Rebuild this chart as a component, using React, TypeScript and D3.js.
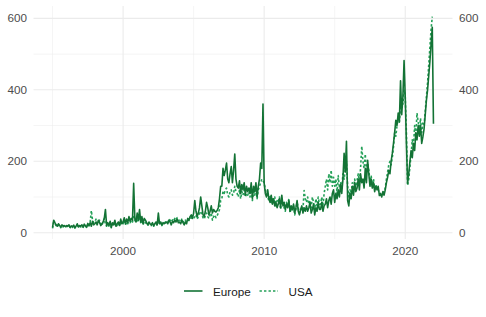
import React from "react";
import * as d3 from "d3";

const width = 486,
  height = 317;
// panel box, in pixels
const panel = { left: 33.5, right: 452.5, top: 6, bottom: 239 };

// monthly values, Jan 1995 onward (one row per year)
const startYear = 1995;
const europe = [
  15, 35, 28, 22, 18, 25, 20, 16, 22, 18, 20, 17,
  20, 18, 22, 15, 19, 17, 21, 14, 18, 25, 16, 20,
  18, 22, 16, 24, 19, 15, 26, 20, 28, 18, 32, 22,
  25, 30, 22, 35, 28, 20, 24, 30, 40, 65, 20, 28,
  20, 32, 15, 28, 22, 35, 18, 25, 30, 20, 38, 25,
  30, 42, 25, 38, 28, 45, 32, 40, 35, 138, 40, 30,
  55, 35, 65, 30, 45, 25, 40, 35, 28, 22, 30, 25,
  22, 28, 20, 25, 30, 22, 55, 25, 30, 22, 28, 25,
  28, 30, 25, 35, 30, 22, 32, 28, 35, 30, 38, 28,
  30, 25, 35, 28, 22, 30, 25, 40, 35, 45, 50, 40,
  55, 90, 60, 45, 55, 70, 100, 75, 50, 45, 60, 85,
  70, 50, 60, 75, 55, 65, 60, 58, 62, 70, 95, 130,
  130, 180, 160, 175, 195, 150, 140, 165, 185, 140, 175, 220,
  150, 130, 125, 145, 110, 135, 120, 140, 105, 130, 115, 125,
  110, 140, 95, 130, 115, 140, 100, 130, 150, 195, 180, 360,
  138, 110, 100, 120, 95, 85, 105, 80, 95, 75, 85, 70,
  80, 95, 70, 105, 75, 85, 65, 80, 70, 90, 60, 75,
  65, 80, 55, 70, 90, 60, 50, 65, 75, 55, 70, 60,
  75, 60, 70, 85, 55, 65, 80, 50, 70, 60, 85, 65,
  65, 85, 60, 75, 80, 95, 70, 90, 100, 80, 110, 120,
  85, 110, 95, 120, 100, 135, 110, 150, 222, 170, 256, 90,
  75, 110, 95, 130, 105, 140, 115, 125, 150, 120, 165, 140,
  150, 125, 180, 140, 203, 165, 130, 150, 125, 140, 115, 130,
  120, 130, 104, 110, 100, 115, 105, 120, 140, 155, 175, 165,
  200, 222, 250, 280, 315, 300, 335, 310, 425, 330, 380, 482,
  380, 250, 138, 166, 200, 230, 210, 250, 230, 280, 260, 300,
  270, 300, 250, 268, 290, 330, 370, 400, 440, 480, 530, 575,
  305,
];
const usa = [
  12, 30, 25, 20, 16, 22, 18, 14, 20, 16, 19, 15,
  18, 16, 20, 14, 18, 15, 19, 13, 17, 22, 15, 18,
  16, 20, 15, 22, 18, 14, 25, 19, 30, 62, 35, 28,
  30, 38, 25, 28, 35, 25, 20, 32, 40, 22, 18, 25,
  18, 28, 14, 25, 20, 30, 16, 22, 28, 18, 32, 22,
  25, 35, 22, 30, 25, 38, 28, 35, 30, 45, 35, 28,
  40, 30, 45, 28, 35, 22, 32, 28, 25, 20, 25, 22,
  20, 25, 18, 22, 26, 20, 35, 22, 28, 20, 25, 24,
  30, 32, 28, 38, 35, 30, 36, 32, 40, 35, 42, 35,
  35, 30, 38, 32, 28, 35, 30, 36, 34, 40, 42, 38,
  40, 45, 50, 38, 45, 55, 60, 50, 42, 38, 48, 55,
  45, 40, 50, 55, 35, 45, 50, 42, 48, 55, 65, 90,
  95, 115, 110, 120, 125, 105, 100, 115, 120, 105, 110, 130,
  115, 110, 100, 120, 95, 115, 105, 120, 100, 110, 105, 115,
  100, 120, 90, 115, 105, 125, 95, 120, 130, 140, 150, 145,
  140, 120, 110, 100, 90, 105, 80, 95, 85, 100, 75, 90,
  85, 100, 65, 95, 80, 70, 60, 85, 75, 95, 55, 70,
  60, 75, 50, 65, 85, 70, 55, 60, 70, 65, 118, 95,
  85, 100, 80, 90, 70, 100, 85, 65, 95, 75, 100, 80,
  80, 100, 75, 110, 130, 150, 120, 165, 140, 175, 130, 155,
  130, 150, 110, 160, 125, 140, 120, 165, 150, 175, 200, 130,
  100, 120, 110, 140, 115, 150, 130, 145, 165, 140, 180, 242,
  200, 180, 220, 170, 195, 175, 145, 160, 130, 150, 125, 135,
  125, 120, 110, 105, 108, 112, 115, 125, 150, 170, 190, 200,
  190, 210, 240, 280, 270, 300, 320, 310, 350, 380, 360, 400,
  380, 280, 132, 150, 185, 220, 260, 240, 300, 270, 335, 310,
  290, 320, 280, 307, 300, 340, 380, 420, 470, 520, 570, 605,
];

const seriesNames = ["Europe", "USA"];
const seriesColors = ["#137335", "#24a058"];
const seriesDash = [null, "2.4,2.1"];

const yBreaks = [0, 200, 400, 600];
const yMinor = [100, 300, 500];
const xBreaks = [2000, 2010, 2020];
const xMinor = [1995, 2005, 2015];

const font = "'Liberation Sans', Arial, sans-serif";

const toPoints = (vals: number[]) =>
  vals.map((v, i) => ({ t: startYear + i / 12, v }));

export default function App() {
  const series = [toPoints(europe), toPoints(usa)];
  const all = series.flat();

  // ggplot-like 5% expansion
  const [tMin, tMax] = d3.extent(all, (d) => d.t) as [number, number];
  const [vMin, vMax] = d3.extent(all, (d) => d.v) as [number, number];
  const tPad = (tMax - tMin) * 0.05;
  const vPad = (vMax - vMin) * 0.05;

  const x = d3
    .scaleLinear()
    .domain([tMin - tPad, tMax + tPad])
    .range([panel.left, panel.right]);
  const y = d3
    .scaleLinear()
    .domain([vMin - vPad, vMax + vPad])
    .range([panel.bottom, panel.top]);

  const line = d3
    .line<{ t: number; v: number }>()
    .x((d) => x(d.t))
    .y((d) => y(d.v));

  const grid = "#ebebeb";
  const textCol = "#4d4d4d";

  return (
    <svg
      width={width}
      height={height}
      style={{ position: "absolute", left: 0, top: 0, background: "#fff" }}
      fontFamily={font}
    >
      {/* minor grid */}
      {yMinor.map((v) => (
        <line key={"ym" + v} x1={panel.left} x2={panel.right} y1={y(v)} y2={y(v)} stroke={grid} strokeWidth={0.55} />
      ))}
      {xMinor.map((t) => (
        <line key={"xm" + t} x1={x(t)} x2={x(t)} y1={panel.top} y2={panel.bottom} stroke={grid} strokeWidth={0.55} />
      ))}
      {/* major grid */}
      {yBreaks.map((v) => (
        <line key={"y" + v} x1={panel.left} x2={panel.right} y1={y(v)} y2={y(v)} stroke={grid} strokeWidth={1.1} />
      ))}
      {xBreaks.map((t) => (
        <line key={"x" + t} x1={x(t)} x2={x(t)} y1={panel.top} y2={panel.bottom} stroke={grid} strokeWidth={1.1} />
      ))}

      {/* lines: USA under Europe */}
      {[1, 0].map((i) => (
        <path
          key={seriesNames[i]}
          d={line(series[i]) || ""}
          fill="none"
          stroke={seriesColors[i]}
          strokeWidth={1.6}
          strokeDasharray={seriesDash[i] || undefined}
          strokeLinejoin="round"
        />
      ))}

      {/* axes text */}
      {yBreaks.map((v) => (
        <g key={"yl" + v} fontSize={11.7} fill={textCol}>
          <text x={27} y={y(v)} dy="0.35em" textAnchor="end">
            {v}
          </text>
          <text x={459} y={y(v)} dy="0.35em" textAnchor="start">
            {v}
          </text>
        </g>
      ))}
      {xBreaks.map((t) => (
        <text key={"xl" + t} x={x(t)} y={254.5} fontSize={11.7} fill={textCol} textAnchor="middle">
          {t}
        </text>
      ))}

      {/* legend */}
      <g fontSize={11.7} fill="#1a1a1a">
        {seriesNames.map((name, i) => {
          const x0 = i === 0 ? 184 : 259.5;
          return (
            <g key={name}>
              <line
                x1={x0}
                x2={x0 + 18.5}
                y1={291}
                y2={291}
                stroke={seriesColors[i]}
                strokeWidth={1.6}
                strokeDasharray={seriesDash[i] || undefined}
              />
              <text x={x0 + 29} y={295.5}>
                {name}
              </text>
            </g>
          );
        })}
      </g>
    </svg>
  );
}
